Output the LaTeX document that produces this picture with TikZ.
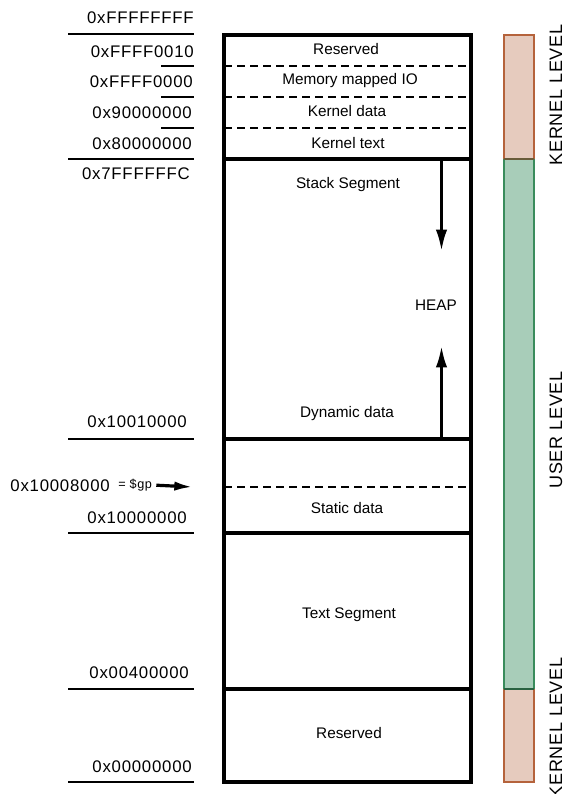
\documentclass[tikz,border=0pt]{standalone}
\usepackage{fontspec}
\setmainfont{Liberation Sans}
\newfontfamily\addrfont[LetterSpace=4.5]{Liberation Sans}
\usetikzlibrary{arrows.meta}

\definecolor{kernfill}{RGB}{230,203,190}
\definecolor{kernline}{RGB}{181,99,60}
\definecolor{userfill}{RGB}{168,205,185}
\definecolor{userline}{RGB}{58,140,92}

\tikzset{
  seg/.style={line width=3pt},
  subseg/.style={line width=1.6pt, dash pattern=on 6pt off 3.75pt},
  tick/.style={line width=2pt},
  addr/.style={anchor=east, inner sep=0pt, font=\addrfont\fontsize{12.6}{15}\selectfont},
  segtext/.style={inner sep=0pt, font=\fontsize{11.5}{13}\selectfont},
  level/.style={rotate=90, inner sep=0pt, font=\addrfont\fontsize{13.5}{16}\selectfont},
  growarrow/.style={line width=2.2pt, -{Latex[length=16pt,width=8.5pt]}},
}

\begin{document}
\begin{tikzpicture}[x=0.75pt,y=0.75pt,yscale=-1,xscale=1]
\useasboundingbox (0,0) rectangle (565,794);

%Shape: Level bar
\fill [kernfill] (504,35) rectangle (534,159);
\fill [userfill] (504,159) rectangle (534,689);
\fill [kernfill] (504,689) rectangle (534,782);
\draw [kernline, line width=2pt] (504,159) -- (504,35) -- (534,35) -- (534,159);
\draw [kernline, line width=2pt] (504,689) -- (504,782) -- (534,782) -- (534,689);
\draw [userline, line width=2pt] (504,159) -- (504,689);
\draw [userline, line width=2pt] (534,159) -- (534,689);
\draw [kernline!60!userline!80!black, line width=2pt] (504,159) -- (534,159);
\draw [userline!70!black, line width=2pt] (504,689) -- (534,689);

%Shape: Memory box
\draw [seg] (224,35) rectangle (471,782);
%Straight Lines
\draw [seg] (224,159) -- (471,159);
\draw [seg] (224,439) -- (471,439);
\draw [seg] (224,533) -- (471,533);
\draw [seg] (224,689) -- (471,689);
%Dashed Lines
\draw [subseg] (224,66) -- (471,66);
\draw [subseg] (224,97) -- (471,97);
\draw [subseg] (224,128) -- (471,128);
\draw [subseg] (224,487) -- (471,487);

%Straight Lines (address ticks)
\draw [tick] (68,34) -- (194,34);
\draw [tick] (161,66) -- (194,66);
\draw [tick] (161,97) -- (194,97);
\draw [tick] (161,128) -- (194,128);
\draw [tick] (68,159) -- (194,159);
\draw [tick] (68,439) -- (194,439);
\draw [tick] (68,533) -- (194,533);
\draw [tick] (68,689) -- (194,689);
\draw [tick] (68,782) -- (194,782);

% Text Node
\node [addr] (aTop) at (194,18) {0xFFFFFFFF};
\node [addr] (aMmio) at (194,52) {0xFFFF0010};
\node [addr] (aKdata) at (193,82) {0xFFFF0000};
\node [addr] (aKtext) at (192,113) {0x90000000};
\node [addr] (aKbase) at (192,144) {0x80000000};
\node [addr] (aStack) at (190,174) {0x7FFFFFFC};
\node [addr] (aDyn) at (187,422) {0x10010000};
\node [addr] (aGp) at (110,486) {0x10008000};
\node [addr, font=\addrfont\fontsize{9.5}{11}\selectfont, anchor=west] (gpEq) at (118,485) {= \$gp};
\node [addr] (aStatic) at (187,518) {0x10000000};
\node [addr] (aText) at (189,673) {0x00400000};
\node [addr] (aZero) at (192,767) {0x00000000};

% Text Node
\node [segtext] (kRes) at (346,49) {Reserved};
\node [segtext] (kMmio) at (350,81) {Memory mapped IO};
\node [segtext] (kData) at (347,111) {Kernel data};
\node [segtext] (kText) at (348,143) {Kernel text};
\node [segtext] (uStack) at (348,185) {Stack Segment};
\node [segtext] (uHeap) at (436,305) {HEAP};
\node [segtext] (uDyn) at (347,414) {Dynamic data};
\node [segtext] (uStatic) at (347,508) {Static data};
\node [segtext] (uText) at (349,615) {Text Segment};
\node [segtext] (uRes) at (349,733) {Reserved};

% Text Node
\node [level] (lvKern) at (556,95) {KERNEL LEVEL};
\node [level] (lvUser) at (556,430) {USER LEVEL};
\node [level] (lvKernLow) at (556,728) {KERNEL LEVEL};

%Arrows
\coordinate (stackTop) at (441.5,159);
\coordinate (stackEnd) at (441.5,251);
\coordinate (heapBase) at (441.5,439);
\coordinate (heapEnd) at (441.5,346);
\coordinate (gpEnd) at (193,487);
\draw [growarrow] (stackTop) -- (stackEnd);
\draw [growarrow] (heapBase) -- (heapEnd);
\draw [line width=2.4pt, shorten <=3pt, -{Latex[length=14pt,width=7pt]}] (gpEq.east) -- (gpEnd);
\end{tikzpicture}
\end{document}
